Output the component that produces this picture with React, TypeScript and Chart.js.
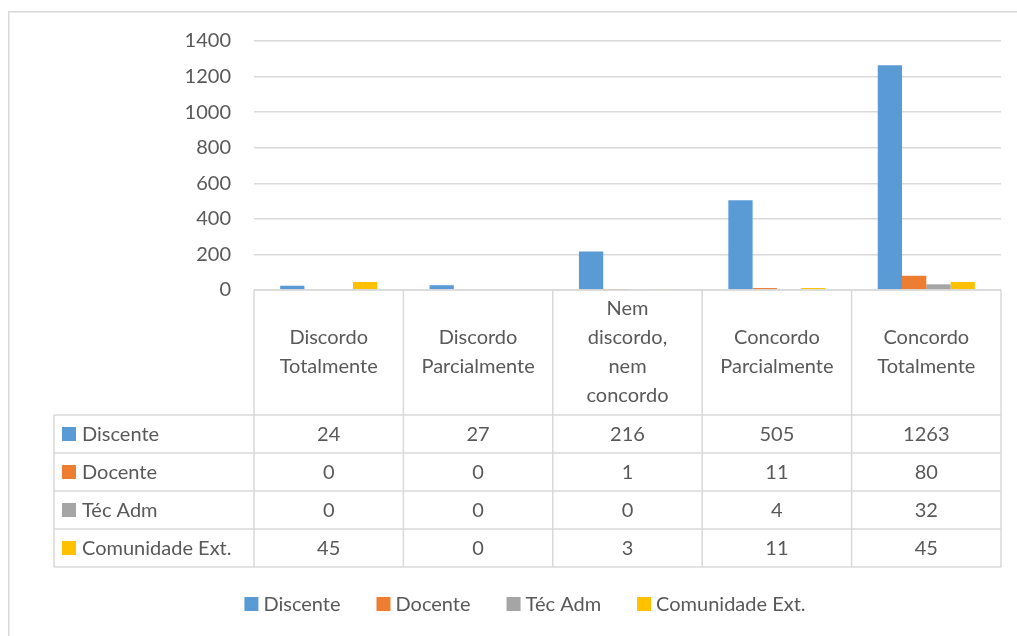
import { useEffect, useRef } from "react";
import { Chart, registerables } from "chart.js";

Chart.register(...registerables);

const categories: string[][] = [
  ["Discordo", "Totalmente"],
  ["Discordo", "Parcialmente"],
  ["Nem", "discordo,", "nem", "concordo"],
  ["Concordo", "Parcialmente"],
  ["Concordo", "Totalmente"],
];
const seriesNames = ["Discente", "Docente", "Téc Adm", "Comunidade Ext."];
const discente = [24, 27, 216, 505, 1263];
const docente = [0, 0, 1, 11, 80];
const tecAdm = [0, 0, 0, 4, 32];
const comunidade = [45, 0, 3, 11, 45];
const seriesColors = ["#5B9BD5", "#ED7D31", "#A5A5A5", "#FFC000"];
const yMax = 1400;
const yStep = 200;

const FONT_FAMILY = "Lato, 'Open Sans', sans-serif";
const FONT_SIZE = 20;
const TEXT_COLOR = "#595959";
const LINE_COLOR = "#D9D9D9";

const frameAndTablePlugin = {
  id: "frameAndTable",
  beforeDraw(chart: any) {
    const ctx = chart.ctx;
    ctx.save();
    ctx.strokeStyle = LINE_COLOR;
    ctx.lineWidth = 1.5;
    ctx.beginPath();
    ctx.moveTo(8.75, chart.height);
    ctx.lineTo(8.75, 11.75);
    ctx.lineTo(chart.width, 11.75);
    ctx.stroke();
    ctx.restore();
  },
  afterDraw(chart: any) {
    const ctx = chart.ctx;
    const area = chart.chartArea;
    const xs = chart.scales.x;
    const labels = chart.data.labels as string[][];
    const n = labels.length;
    const catW = (area.right - area.left) / n;
    const top = area.bottom;
    const headerH = 125;
    const rowH = 38;
    const tableLeft = 54;
    const datasets = chart.data.datasets;
    const bottom = top + headerH + rowH * datasets.length;

    ctx.save();
    ctx.strokeStyle = LINE_COLOR;
    ctx.lineWidth = 1.5;
    ctx.beginPath();
    ctx.moveTo(area.left, top);
    ctx.lineTo(area.right, top);
    for (let r = 0; r <= datasets.length; r++) {
      const y = top + headerH + rowH * r;
      ctx.moveTo(tableLeft, y);
      ctx.lineTo(area.right, y);
    }
    for (let i = 0; i <= n; i++) {
      const x = xs.getPixelForValue(Math.min(i, n - 1)) + (i === n ? catW / 2 : -catW / 2);
      ctx.moveTo(x, top);
      ctx.lineTo(x, bottom);
    }
    ctx.moveTo(tableLeft, top + headerH);
    ctx.lineTo(tableLeft, bottom);
    ctx.stroke();

    ctx.font = `${FONT_SIZE}px ${FONT_FAMILY}`;
    ctx.fillStyle = TEXT_COLOR;
    ctx.textAlign = "center";
    ctx.textBaseline = "middle";
    const lineH = 29;
    const headerMid = top + headerH / 2;
    for (let i = 0; i < n; i++) {
      const cx = xs.getPixelForValue(i);
      const lines = labels[i];
      const start = headerMid - ((lines.length - 1) * lineH) / 2;
      lines.forEach((ln, k) => ctx.fillText(ln, cx, start + k * lineH));
    }

    datasets.forEach((ds: any, r: number) => {
      const cy = top + headerH + rowH * r + rowH / 2;
      ctx.fillStyle = ds.backgroundColor;
      ctx.fillRect(62, cy - 7, 14, 14);
      ctx.fillStyle = TEXT_COLOR;
      ctx.textAlign = "left";
      ctx.fillText(ds.label, 82, cy + 1);
      ctx.textAlign = "center";
      ds.data.forEach((v: number, i: number) => {
        ctx.fillText(String(v), xs.getPixelForValue(i), cy + 1);
      });
    });

    // legend
    const legendY = 604;
    const gap = 36;
    const box = 14;
    const boxGap = 5;
    const widths = datasets.map((ds: any) => box + boxGap + ctx.measureText(ds.label).width);
    const total = widths.reduce((a: number, b: number) => a + b, 0) + gap * (datasets.length - 1);
    let lx = 525 - total / 2;
    ctx.textAlign = "left";
    datasets.forEach((ds: any, r: number) => {
      ctx.fillStyle = ds.backgroundColor;
      ctx.fillRect(lx, legendY - 7, box, box);
      ctx.fillStyle = TEXT_COLOR;
      ctx.fillText(ds.label, lx + box + boxGap, legendY + 1);
      lx += widths[r] + gap;
    });
    ctx.restore();
  },
};

export default function App() {
  const canvasRef = useRef<HTMLCanvasElement | null>(null);

  useEffect(() => {
    if (!canvasRef.current) return;
    const seriesValues = [discente, docente, tecAdm, comunidade];
    const chart = new Chart(canvasRef.current, {
      type: "bar",
      data: {
        labels: categories as any,
        datasets: seriesNames.map((name, i) => ({
          label: name,
          data: seriesValues[i],
          backgroundColor: seriesColors[i],
          borderWidth: 0,
          categoryPercentage: 0.65,
          barPercentage: 1,
        })),
      },
      options: {
        responsive: false,
        animation: false,
        layout: { padding: { top: 41, right: 16, bottom: 346, left: 0 } },
        plugins: {
          legend: { display: false },
          tooltip: { enabled: false },
        },
        scales: {
          x: { display: false },
          y: {
            min: 0,
            max: yMax,
            border: { display: false },
            grid: { color: LINE_COLOR, lineWidth: 1.5, drawTicks: false },
            ticks: {
              stepSize: yStep,
              padding: 23,
              color: TEXT_COLOR,
              font: { family: FONT_FAMILY, size: FONT_SIZE },
              callback: (v: any) => String(v),
            },
            afterFit(scale: any) {
              scale.width = 254;
            },
          },
        },
      },
      plugins: [frameAndTablePlugin],
    });
    return () => chart.destroy();
  }, []);

  return (
    <div style={{ position: "absolute", left: 0, top: 0, width: 1017, height: 636, background: "#fff" }}>
      <canvas ref={canvasRef} width={1017} height={636} style={{ width: 1017, height: 636, display: "block" }} />
    </div>
  );
}
